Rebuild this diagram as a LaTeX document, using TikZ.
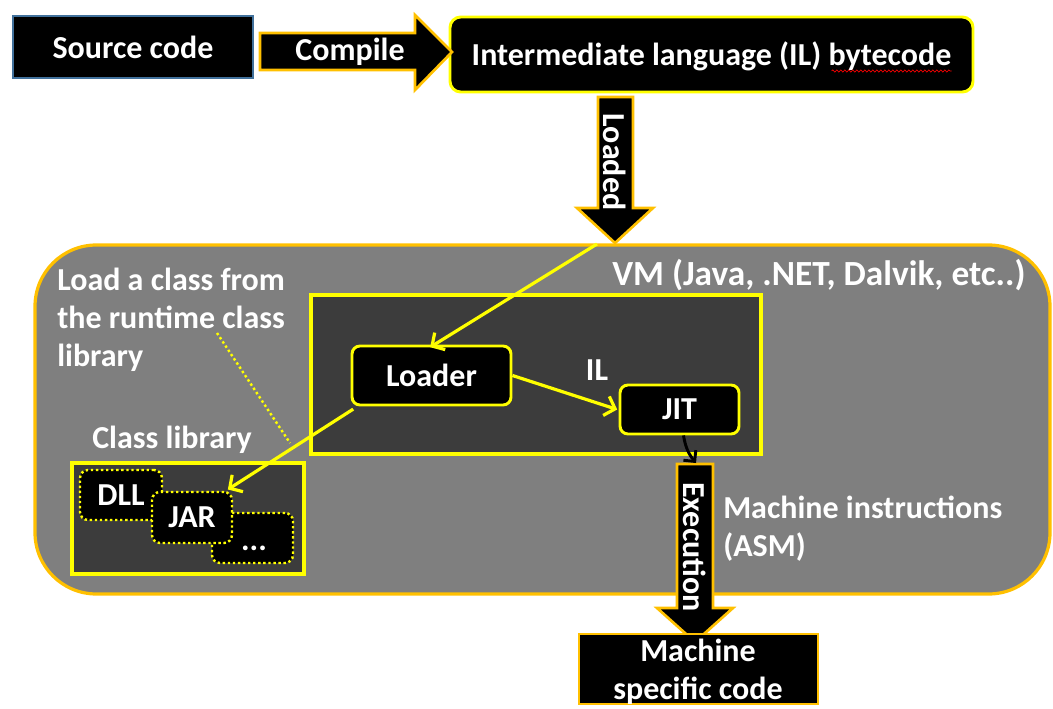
\documentclass[tikz,border=0pt]{standalone}
\usepackage{fontspec}
\setmainfont{Carlito}
\usetikzlibrary{arrows.meta,fit,decorations.pathmorphing,calc}
\definecolor{orng}{RGB}{255,192,0}
\definecolor{ylw}{RGB}{255,255,0}
\definecolor{srcblue}{RGB}{65,113,156}
\definecolor{vmgray}{RGB}{127,127,127}
\definecolor{darkbox}{RGB}{60,60,60}
\begin{document}
\begin{tikzpicture}[x=0.75pt,y=-0.75pt,
  lbl/.style={text=white,font=\fontsize{24}{28.5}\selectfont\bfseries,align=center,inner sep=0pt},
  blackbox/.style={fill=black,line width=2.2pt,inner sep=0pt},
  ybox/.style={blackbox,draw=ylw,rounded corners=6pt},
  dotbox/.style={blackbox,draw=ylw,rounded corners=6pt,line width=1.8pt,dotted},
  blockarrow/.style={fill=black,draw=orng,line width=2pt,line join=miter},
  yarrow/.style={draw=ylw,line width=2.4pt,-{Straight Barb[length=7pt,width=15pt]}},
  karrow/.style={draw=black,line width=2.2pt,-{Straight Barb[length=6pt,width=12pt]}}]
\useasboundingbox (0,0) rectangle (1053,709);

% top row
\node[blackbox,draw=srcblue,fit={(13,16)(253,78)}] (src) {};
\node[lbl] (srctxt) at (src.center) {Source code};
\node[blackbox,draw=ylw,rounded corners=8pt,fit={(450,17)(973,92)}] (il) {};
\node[lbl] (iltxt) at ($(il.center)+(0,2)$) {Intermediate language (IL) bytecode};
\draw[red,line width=0.5pt,decorate,decoration={snake,amplitude=0.8pt,segment length=3pt}]
  ([xshift=-90pt,yshift=-4pt]iltxt.base east) -- ([yshift=-4pt]iltxt.base east);

% Compile block arrow
\draw[blockarrow] (260,33) -- (415,33) -- (415,15) -- (452,52) -- (415,90) -- (415,70) -- (260,70) -- cycle;
\node[lbl] (compile) at (350,52) {Compile};

% VM container
\node[fill=vmgray,draw=orng,line width=2.4pt,rounded corners=46pt,inner sep=0pt,fit={(35,245)(1050,594)}] (vm) {};
\node[lbl,font=\fontsize{26.5}{30}\selectfont\bfseries,anchor=west] (vmlbl) at (612,275) {VM (Java, .NET, Dalvik, etc..)};
\node[lbl,align=left,anchor=west] (loadlbl) at (57,320) {Load a class from\\the runtime class\\library};

% Loaded block arrow
\draw[blockarrow] (598,97) -- (633,97) -- (633,208) -- (653,208) -- (615,243) -- (577,208) -- (598,208) -- cycle;
\node[lbl,rotate=-90] (loaded) at (615,162) {Loaded};

% inner runtime box
\node[fill=darkbox,draw=ylw,line width=2.4pt,inner sep=0pt,fit={(311,295)(761,454)}] (rt) {};
\node[ybox,fit={(352,346)(511,405)}] (loader) {};
\node[lbl] (loadertxt) at (loader.center) {Loader};
\node[ybox,fit={(620,385)(739,434)}] (jit) {};
\node[lbl] (jittxt) at (jit.center) {JIT};
\node[lbl] (illbl) at (597,370) {IL};

% class library
\node[lbl] (cllbl) at (172,440) {Class library};
\node[fill=darkbox,draw=ylw,line width=2.4pt,inner sep=0pt,fit={(72,463)(304,574)}] (clbox) {};
\node[dotbox,fit={(80,470)(162,520)}] (dll) {};
\node[lbl] (dlltxt) at (dll.center) {DLL};
\node[dotbox,fit={(212,513)(293,563)}] (more) {};
\node[lbl,anchor=base] (moretxt) at (254,550) {...};
\node[dotbox,fit={(152,492)(232,543)}] (jar) {};
\node[lbl] (jartxt) at (jar.center) {JAR};

% annotation dotted line
\coordinate (annA) at (217,333);
\coordinate (annB) at (290,443);
\draw[ylw,line width=1.8pt,dotted] (annA) -- (annB);

% Execution block arrow
\draw[blockarrow] (677,464) -- (713,464) -- (713,608) -- (733,608) -- (695,642) -- (657,608) -- (677,608) -- cycle;
\node[lbl,rotate=-90] (exec) at (695,547) {Execution};
\node[lbl,align=left,anchor=west] (asm) at (723,529) {Machine instructions\\(ASM)};

% machine specific code
\node[blackbox,draw=orng,fit={(579,634)(818,704)}] (msc) {};
\node[lbl] (msctxt) at (698,672) {Machine\\specific code};

% connectors
\coordinate (loadtip) at (597,244);
\coordinate (exectop) at (696,463);
\draw[yarrow] (loadtip) -- ([xshift=-1pt,yshift=-2pt]loader.north);
\draw[yarrow] (loader.east) -- ([xshift=-1pt]jit.west);
\draw[yarrow] ([xshift=2pt,yshift=-2pt]loader.south west) -- ([xshift=-4pt,yshift=1pt]jar.north east);
\draw[karrow] ([xshift=3pt]jit.south) to[bend right=15] (exectop);
\end{tikzpicture}
\end{document}
